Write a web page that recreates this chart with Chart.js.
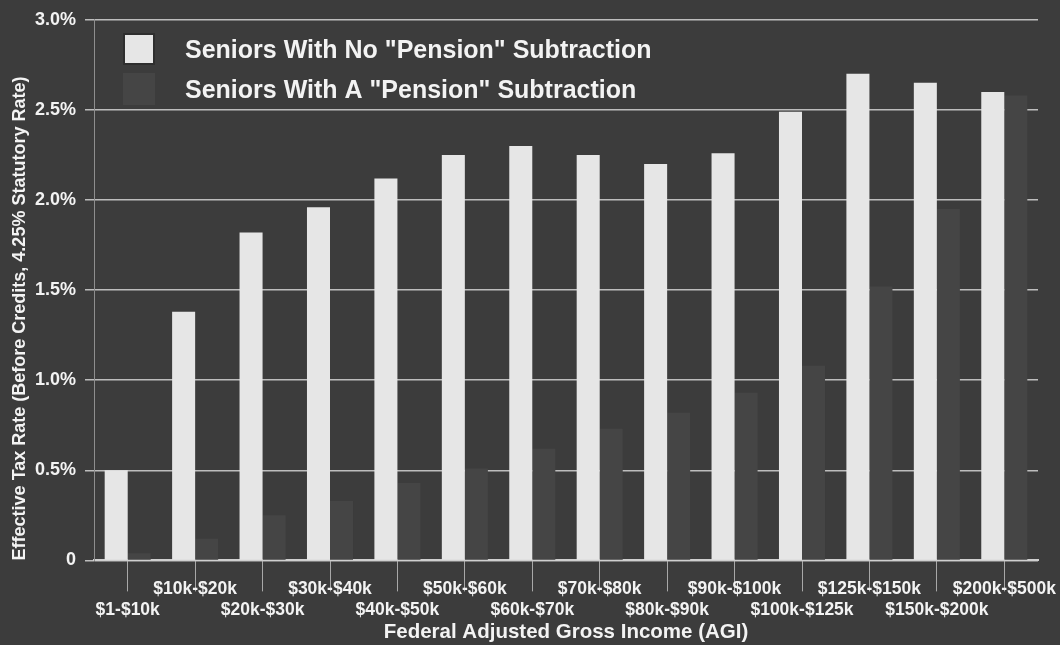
<!DOCTYPE html>
<html>
<head>
<meta charset="utf-8">
<script src="https://cdn.jsdelivr.net/npm/chart.js@4/dist/chart.umd.min.js"></script>
<style>
  html, body { margin: 0; padding: 0; background: #3c3c3c; }
  #wrap { width: 1060px; height: 645px; position: relative; }
</style>
</head>
<body>
<div id="wrap"><canvas id="c"></canvas></div>
<script>
// Income brackets (federal AGI)
const incomeBrackets = [
  '$1-$10k', '$10k-$20k', '$20k-$30k', '$30k-$40k', '$40k-$50k', '$50k-$60k', '$60k-$70k',
  '$70k-$80k', '$80k-$90k', '$90k-$100k', '$100k-$125k', '$125k-$150k', '$150k-$200k', '$200k-$500k'
];
// Effective tax rate, percent
const noPensionRate   = [0.50, 1.38, 1.82, 1.96, 2.12, 2.25, 2.30, 2.25, 2.20, 2.26, 2.49, 2.70, 2.65, 2.60];
const withPensionRate = [0.04, 0.12, 0.25, 0.33, 0.43, 0.51, 0.62, 0.73, 0.82, 0.93, 1.08, 1.52, 1.95, 2.58];
const seriesNames = ['Seniors With No "Pension" Subtraction', 'Seniors With A "Pension" Subtraction'];
const yTicks = [0, 0.5, 1.0, 1.5, 2.0, 2.5, 3.0];

const FONT = "'Liberation Sans', Arial, Helvetica, sans-serif";
const TEXT = '#f3f3f3';
const BG = '#3c3c3c';
const LIGHT_BAR = '#e6e6e6';
const DARK_BAR = '#454545';

// Legend drawn inside the plot area, top-left
const insideLegend = {
  id: 'insideLegend',
  afterDatasetsDraw(chart) {
    const ctx = chart.ctx;
    const x0 = 123, y0 = 33, box = 32, rowGap = 40, textX = 185;
    ctx.save();
    chart.data.datasets.forEach((ds, i) => {
      const y = y0 + i * rowGap;
      ctx.fillStyle = ds.backgroundColor;
      ctx.fillRect(x0, y, box, box);
      if (i === 0) {
        ctx.lineWidth = 2;
        ctx.strokeStyle = '#2e2e2e';
        ctx.strokeRect(x0 + 1, y + 1, box - 2, box - 2);
      }
      ctx.fillStyle = TEXT;
      ctx.font = 'bold 25px ' + FONT;
      ctx.textBaseline = 'alphabetic';
      ctx.textAlign = 'left';
      ctx.fillText(ds.label, textX, y + 25);
    });
    ctx.restore();
  }
};

const bgFill = {
  id: 'bgFill',
  beforeDraw(chart) {
    const ctx = chart.ctx;
    ctx.save();
    ctx.fillStyle = BG;
    ctx.fillRect(0, 0, chart.width, chart.height);
    ctx.restore();
  }
};

new Chart(document.getElementById('c'), {
  type: 'bar',
  data: {
    labels: incomeBrackets,
    datasets: [
      { label: seriesNames[0], data: noPensionRate, backgroundColor: LIGHT_BAR, borderWidth: 0 },
      { label: seriesNames[1], data: withPensionRate, backgroundColor: DARK_BAR, borderWidth: 0 }
    ]
  },
  options: {
    responsive: true,
    maintainAspectRatio: false,
    animation: false,
    datasets: { bar: { categoryPercentage: 0.683, barPercentage: 1.0 } },
    layout: { padding: { left: 0, right: 22, top: 19, bottom: 0 } },
    plugins: {
      legend: { display: false },
      tooltip: { enabled: false }
    },
    scales: {
      x: {
        grid: {
          offset: false,
          drawOnChartArea: false,
          drawTicks: true,
          tickLength: 31,
          tickColor: '#a8a8a8',
          tickWidth: 1
        },
        border: { display: true, color: '#cfcfcf', width: 2 },
        ticks: {
          autoSkip: false,
          maxRotation: 0,
          minRotation: 0,
          padding: -13,
          color: TEXT,
          font: { family: FONT, size: 17.5, weight: 'bold' },
          callback: function (v, i) {
            const s = this.getLabelForValue(v);
            return i % 2 === 0 ? ['', s] : s;
          }
        },
        title: {
          display: true,
          text: 'Federal Adjusted Gross Income (AGI)',
          color: TEXT,
          font: { family: FONT, size: 20.5, weight: 'bold' },
          padding: { top: 13, bottom: 0 }
        }
      },
      y: {
        min: 0,
        max: 3.0,
        afterBuildTicks: (axis) => { axis.ticks = yTicks.map(v => ({ value: v })); },
        afterFit: (axis) => { axis.width = 94; },
        grid: {
          color: '#bdbdbd',
          lineWidth: 1.5,
          drawTicks: true,
          tickLength: 9,
          tickColor: '#bdbdbd'
        },
        border: { display: true, color: '#8e8e8e', width: 1 },
        ticks: {
          padding: 9,
          color: TEXT,
          font: { family: FONT, size: 18, weight: 'bold' },
          callback: (v) => (v === 0 ? '0' : v.toFixed(1) + '%')
        },
        title: {
          display: true,
          text: 'Effective Tax Rate (Before Credits, 4.25% Statutory Rate)',
          align: 'start',
          color: TEXT,
          font: { family: FONT, size: 18, weight: 'bold' },
          padding: { top: 9, bottom: 0 }
        }
      }
    }
  },
  plugins: [bgFill, insideLegend]
});
</script>
</body>
</html>
